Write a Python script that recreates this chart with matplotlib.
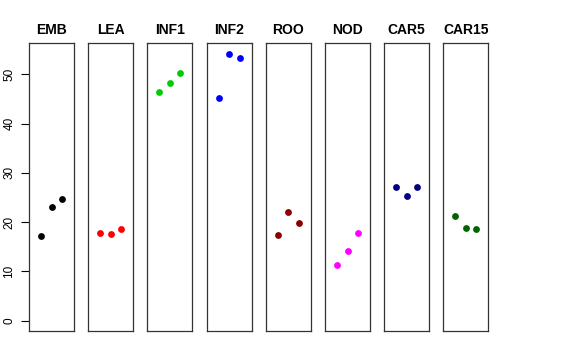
import matplotlib
matplotlib.use("Agg")
import matplotlib.pyplot as plt

plt.rcParams['font.family'] = ['Liberation Sans', 'DejaVu Sans']

groups = ["EMB", "LEA", "INF1", "INF2", "ROO", "NOD", "CAR5", "CAR15"]
colors = ["#000000", "#FF0000", "#00CD00", "#0000FF", "#8B0000", "#FF00FF", "#000080", "#006400"]
values = [
    [17.1, 23.0, 24.7],
    [17.7, 17.5, 18.7],
    [46.4, 48.3, 50.3],
    [45.2, 54.2, 53.4],
    [17.3, 22.1, 19.8],
    [11.3, 14.1, 17.7],
    [27.1, 25.4, 27.1],
    [21.3, 18.8, 18.6],
]
reps = [1, 2, 3]

W, H = 576, 360
fig = plt.figure(figsize=(W / 100, H / 100), dpi=100)

left0 = 29.0
step = 59.2
pw = 45.0
top, bottom = 43.3, 331.0

for i, (name, col, vals) in enumerate(zip(groups, colors, values)):
    x0 = left0 + i * step
    ax = fig.add_axes([x0 / W, (H - bottom) / H, pw / W, (bottom - top) / H])
    ax.plot(reps, vals, 'o', color=col, markersize=4.9, markeredgewidth=0)
    ax.set_xlim(-0.13, 4.13)
    ax.set_ylim(-2.1, 56.3)
    ax.set_xticks([])
    ax.set_title(name, fontsize=10, fontweight='bold', pad=7)
    for s in ax.spines.values():
        s.set_linewidth(0.9)
        s.set_color('#333333')
    if i == 0:
        ax.set_yticks([0, 10, 20, 30, 40, 50])
        ax.tick_params(axis='y', length=5.5, width=0.8, labelsize=8.5, pad=4.3)
        for lab in ax.get_yticklabels():
            lab.set_rotation(90)
            lab.set_va('center')
    else:
        ax.set_yticks([])

fig.savefig("out.png", dpi=100)
